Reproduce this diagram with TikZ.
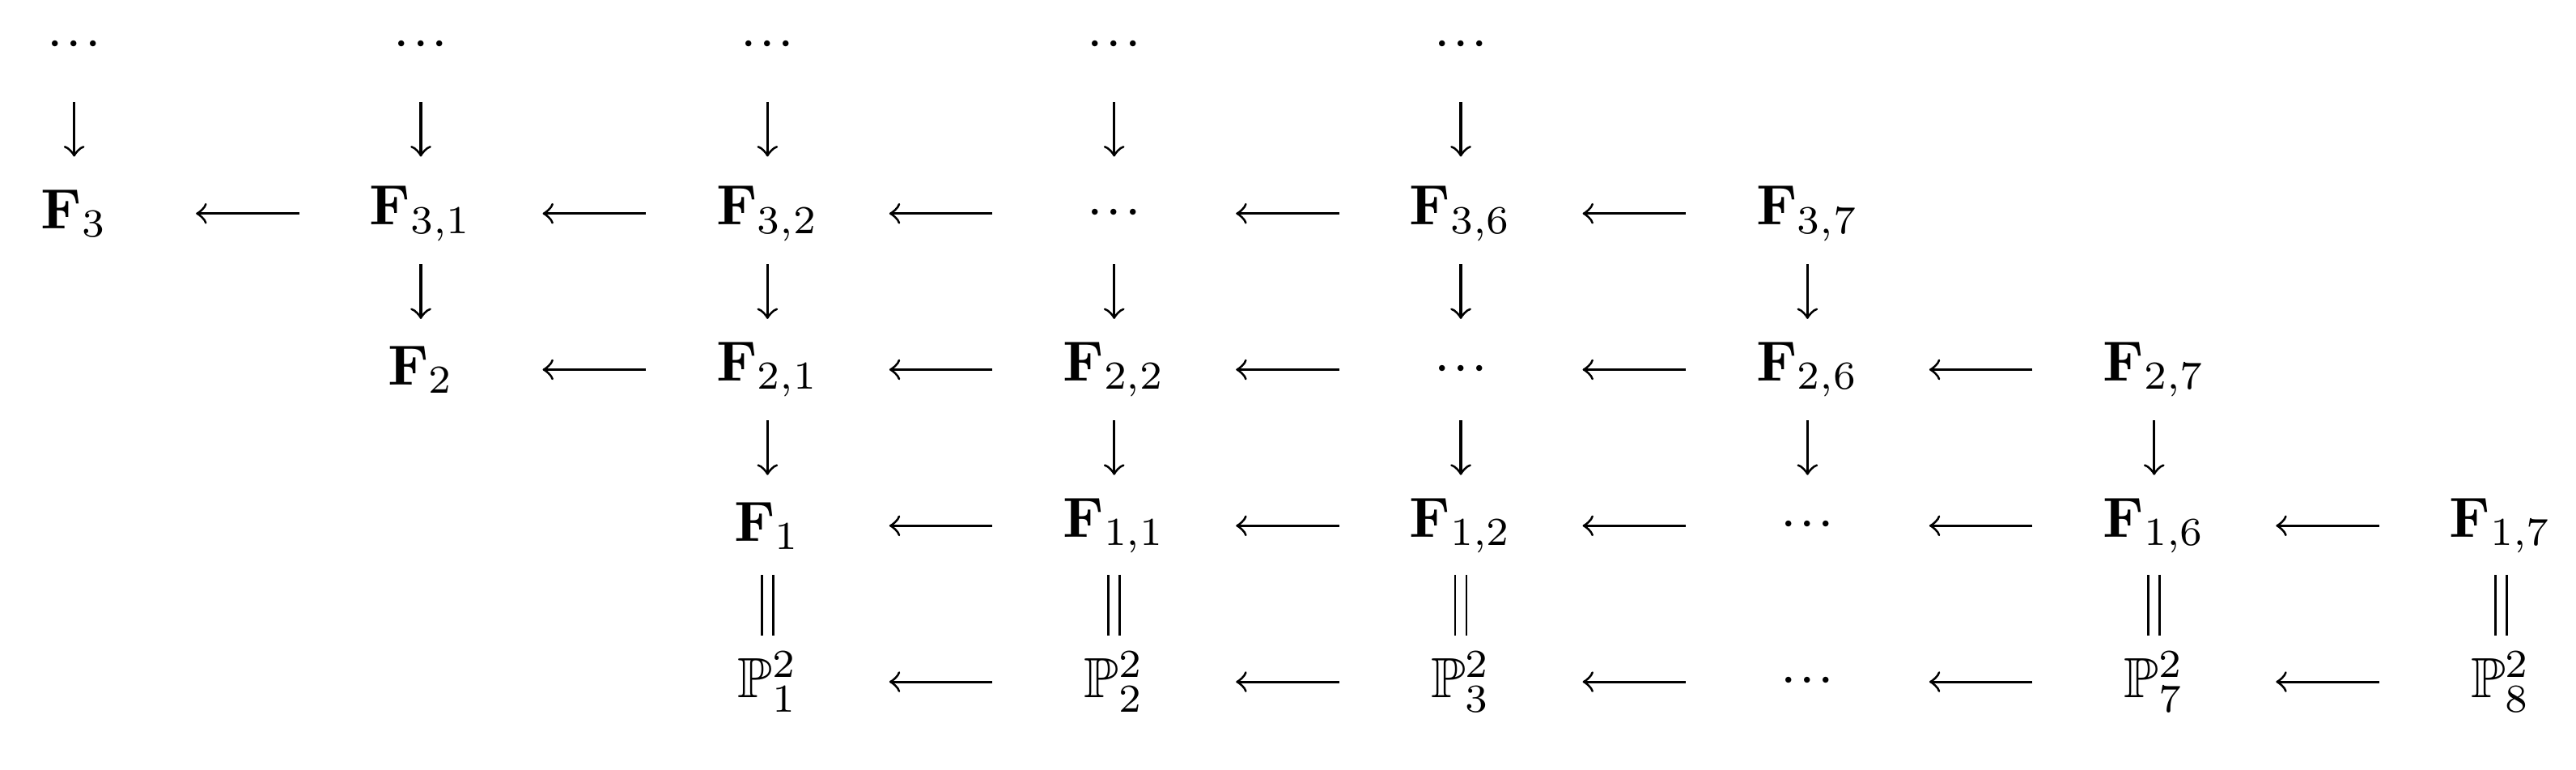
\documentclass[tikz,border=0pt]{standalone}
\usepackage{amssymb}
\usetikzlibrary{calc}
\begin{document}
\begin{tikzpicture}[x=2.153cm,y=-0.969cm,
  lbl/.style={inner sep=1pt},
  arr/.style={->,line width=0.45pt,>=to}]
\useasboundingbox (-0.214,-1.368) rectangle (7.217,3.564);
\def\dd{\cdot\!\cdot\!\cdot}
% top dots
\foreach \c in {0,...,4} \node[lbl] (t\c) at (\c,-1.08) {$\dd$};
% row 1
\node[lbl] (a0) at (0,0) {$\mathbf F_3$};
\node[lbl] (a1) at (1,0) {$\mathbf F_{3,1}$};
\node[lbl] (a2) at (2,0) {$\mathbf F_{3,2}$};
\node[lbl] (a3) at (3,0) {$\dd$};
\node[lbl] (a4) at (4,0) {$\mathbf F_{3,6}$};
\node[lbl] (a5) at (5,0) {$\mathbf F_{3,7}$};
% row 2
\node[lbl] (b1) at (1,1) {$\mathbf F_2$};
\node[lbl] (b2) at (2,1) {$\mathbf F_{2,1}$};
\node[lbl] (b3) at (3,1) {$\mathbf F_{2,2}$};
\node[lbl] (b4) at (4,1) {$\dd$};
\node[lbl] (b5) at (5,1) {$\mathbf F_{2,6}$};
\node[lbl] (b6) at (6,1) {$\mathbf F_{2,7}$};
% row 3
\node[lbl] (c2) at (2,2) {$\mathbf F_1$};
\node[lbl] (c3) at (3,2) {$\mathbf F_{1,1}$};
\node[lbl] (c4) at (4,2) {$\mathbf F_{1,2}$};
\node[lbl] (c5) at (5,2) {$\dd$};
\node[lbl] (c6) at (6,2) {$\mathbf F_{1,6}$};
\node[lbl] (c7) at (7,2) {$\mathbf F_{1,7}$};
% row 4
\node[lbl] (d2) at (2,3) {$\mathbb P^2_1$};
\node[lbl] (d3) at (3,3) {$\mathbb P^2_2$};
\node[lbl] (d4) at (4,3) {$\mathbb P^2_3$};
\node[lbl] (d5) at (5,3) {$\dd$};
\node[lbl] (d6) at (6,3) {$\mathbb P^2_7$};
\node[lbl] (d7) at (7,3) {$\mathbb P^2_8$};
% horizontal arrows
\foreach \r/\f/\l in {a/0/4,b/1/5,c/2/6,d/2/6}{
  \foreach \i in {\f,...,\l}{
    \pgfmathtruncatemacro\j{\i+1}
    \draw[arr] ($(\r\i)!.5!(\r\j)+(0.32cm,0)$) -- ++(-0.64cm,0);
  }}
% vertical arrows
\foreach \i in {0,...,4}
  \draw[arr] ($(t\i)!.5!(a\i)+(0,0.17cm)$) -- ++(0,-0.34cm);
\foreach \i in {1,...,5}
  \draw[arr] ($(a\i)!.5!(b\i)+(0,0.17cm)$) -- ++(0,-0.34cm);
\foreach \i in {2,...,6}
  \draw[arr] ($(b\i)!.5!(c\i)+(0,0.17cm)$) -- ++(0,-0.34cm);
% equalities
\foreach \i in {2,3,4,6,7}
  \draw[line width=0.4pt,double,double distance=1.6pt] ($(c\i)!.5!(d\i)+(0,0.18cm)$) -- ++(0,-0.38cm);
\end{tikzpicture}
\end{document}
